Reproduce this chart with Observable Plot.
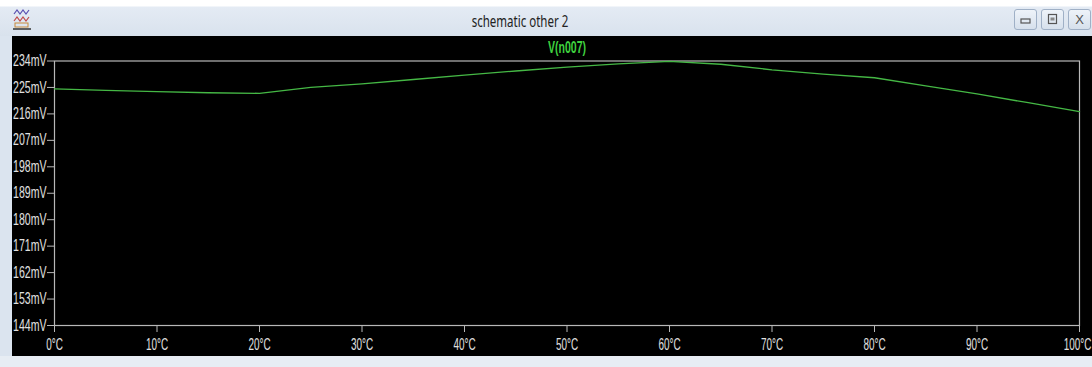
<!DOCTYPE html>
<html>
<head>
<meta charset="utf-8">
<script src="https://cdn.jsdelivr.net/npm/d3@7"></script>
<script src="https://cdn.jsdelivr.net/npm/@observablehq/plot@0.6"></script>
<style>
  html, body { margin: 0; padding: 0; width: 1092px; height: 367px; overflow: hidden; background: #dfe7f1; }
  #titlebar {
    position: relative; height: 36px; width: 1092px;
    background: linear-gradient(#ffffff 0px, #ffffff 6px, #e4ebf4 7px, #d9e2ed 36px);
    font-family: "Noto Sans", "Open Sans", sans-serif;
  }
  #title {
    position: absolute; left: 420px; width: 200px; top: 10px;
    text-align: center; font-size: 16px; color: #222;
    transform: scaleX(0.72); transform-origin: 50% 50%;
  }
  #icon { position: absolute; left: 13px; top: 8px; }
  .btn {
    position: absolute; top: 9px; width: 23px; height: 21px; box-sizing: border-box;
    border: 1px solid #9fb0c6; border-radius: 3px;
    background: linear-gradient(#eef3f9, #d6e0ec);
  }
  #main { display: flex; }
  #leftstrip { width: 12px; height: 320px; background: #dbe4ef; }
  #chart { width: 1080px; height: 320px; background: #000; }
  #chart svg { overflow: visible; }
  #bottom { height: 11px; background: #e7edf4; }
</style>
</head>
<body>
<div id="titlebar">
  <svg id="icon" width="18" height="22" viewBox="0 0 18 22">
    <path d="M1 6 L4 2 L7 6 L10 2 L13 6 L16 2" fill="none" stroke="#5a4fb0" stroke-width="1.2"/>
    <path d="M1 13 L4 9 L7 13 L10 9 L13 13 L16 9" fill="none" stroke="#c04a4a" stroke-width="1.2"/>
    <rect x="2" y="15" width="13" height="4" fill="none" stroke="#c88a3a" stroke-width="1"/>
    <line x1="0" y1="21" x2="18" y2="21" stroke="#333" stroke-width="1.5"/>
  </svg>
  <div id="title">schematic other 2</div>
  <div class="btn" style="left:1014px">
    <svg width="21" height="19"><rect x="6" y="9" width="9" height="4" fill="none" stroke="#555" stroke-width="1.2"/></svg>
  </div>
  <div class="btn" style="left:1041px">
    <svg width="21" height="19"><rect x="6.5" y="4.5" width="8" height="9" fill="none" stroke="#555" stroke-width="1.2"/><rect x="8.5" y="7.5" width="4" height="3" fill="#888"/></svg>
  </div>
  <div class="btn" style="left:1068px">
    <svg width="21" height="19"><text x="10.5" y="14" text-anchor="middle" font-family="Liberation Sans, sans-serif" font-size="13" fill="#555">X</text></svg>
  </div>
</div>
<div id="main">
  <div id="leftstrip"></div>
  <div id="chart"></div>
</div>
<div id="bottom"></div>
<script>
// Temperature sweep of node n007 (°C → mV)
const temps = [0, 5, 10, 15, 20, 25, 30, 35, 40, 45, 50, 55, 60, 65, 70, 75, 80, 85, 90, 95, 100];
const voltsMV = [224.5, 224.0, 223.6, 223.2, 223.0, 225.0, 226.2, 227.7, 229.2, 230.6, 231.9, 233.0, 233.9, 232.9, 231.0, 229.5, 228.3, 225.5, 222.8, 219.8, 216.8];

// Axis ticks
const xTicks = [0, 10, 20, 30, 40, 50, 60, 70, 80, 90, 100];
const yTicks = [144, 153, 162, 171, 180, 189, 198, 207, 216, 225, 234];
const traceName = "V(n007)";

const data = temps.map((t, i) => ({temp: t, mv: voltsMV[i]}));

const font = "'Liberation Sans', Arial, sans-serif";
const axisGray = "#b8b8b8";
const labelGray = "#e0e0e0";
const traceGreen = "#45b845";

const chart = Plot.plot({
  width: 1080,
  height: 320,
  marginLeft: 42,
  marginRight: 13,
  marginTop: 24.5,
  marginBottom: 31,
  style: {background: "#000", fontFamily: font, fontSize: "16px", overflow: "visible"},
  x: {domain: [0, 100]},
  y: {domain: [144, 234]},
  marks: [
    Plot.frame({stroke: axisGray, strokeWidth: 1.2}),
    Plot.axisY(yTicks, {
      tickFormat: d => `${d}mV`, tickSize: 7, tickPadding: 1,
      stroke: axisGray, fill: labelGray, label: null, fontSize: 16
    }),
    Plot.axisX(xTicks, {
      tickFormat: d => `${d}°C`, tickSize: 7, tickPadding: 6,
      stroke: axisGray, fill: labelGray, label: null, fontSize: 16
    }),
    Plot.line(data, {x: "temp", y: "mv", stroke: traceGreen, strokeWidth: 1.3}),
    // trace name centred above the plot frame
    Plot.text([traceName], {
      frameAnchor: "top", lineAnchor: "middle", dy: -13,
      fill: "#3fd23f", fontSize: 16, fontWeight: "bold"
    })
  ]
});

// Narrow the lettering horizontally, in the style of a condensed waveform-viewer font
const xLabels = Array.from(chart.querySelectorAll('g[aria-label="x-axis tick label"] text'));
chart.querySelectorAll("text").forEach(el => {
  const tr = el.getAttribute("transform") || "";
  const isX = xLabels.includes(el);
  // keep the last temperature label inside the window edge
  const nudge = isX && el === xLabels[xLabels.length - 1] ? "translate(-2,0) " : "";
  el.setAttribute("transform", `${nudge}${tr} scale(${isX ? 0.62 : 0.66},1)`.trim());
});

document.getElementById("chart").appendChild(chart);
</script>
</body>
</html>
